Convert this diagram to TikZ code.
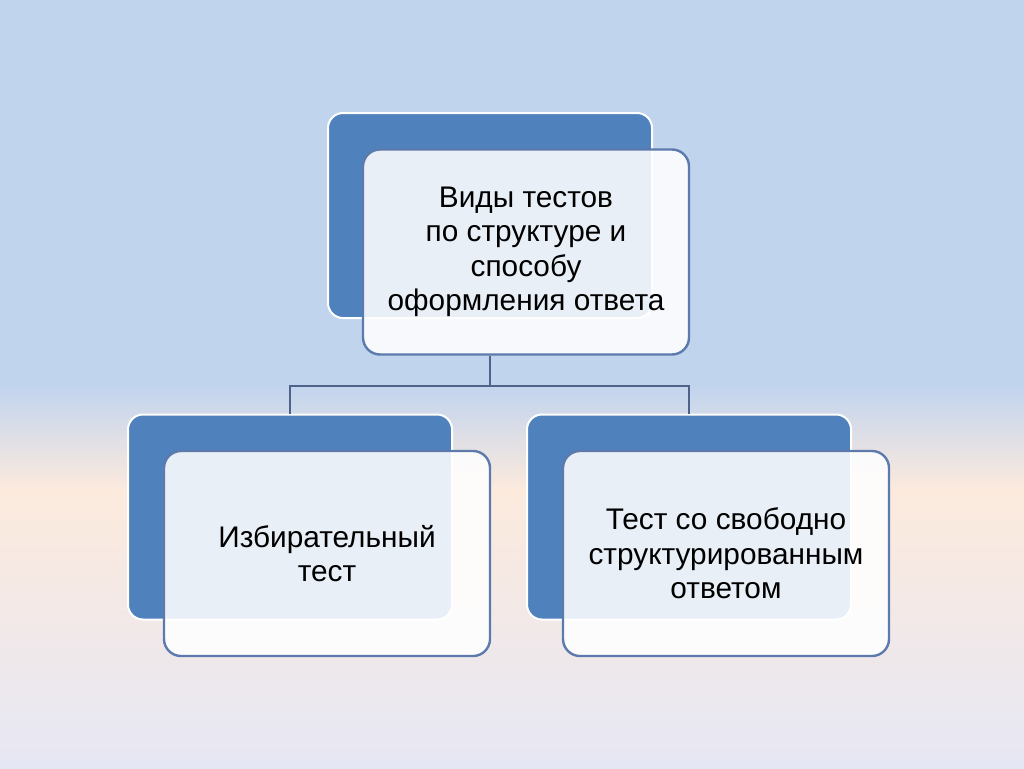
\documentclass[tikz,border=0pt]{standalone}
\usepackage{fontspec}
\setmainfont{Liberation Sans}
\usepackage{tikz}
\usetikzlibrary{positioning,calc}
\definecolor{bgblue}{RGB}{193,212,238}
\definecolor{bgpeach}{RGB}{252,234,221}
\definecolor{bglav}{RGB}{230,231,244}
\definecolor{boxclr}{RGB}{79,129,189}
\definecolor{rimclr}{RGB}{92,122,172}
\definecolor{linkclr}{RGB}{78,98,138}
\tikzset{
  backbox/.style={rectangle,rounded corners=15pt,draw=white,line width=2pt,
                  fill=boxclr,minimum width=324pt,minimum height=205pt,inner sep=0pt},
  frontbox/.style={rectangle,rounded corners=17pt,draw=rimclr,line width=2.4pt,
                   fill=white,fill opacity=0.88,text opacity=1,
                   minimum width=326pt,minimum height=205pt,inner sep=0pt,
                   align=center,font=\fontsize{29.8}{34.5}\selectfont},
  link/.style={draw=linkclr,line width=2pt},
}

\begin{document}
\begin{tikzpicture}[x=1pt, y=-1pt]
\fill[bgblue] (0,0) rectangle (1024,386);
\shade[top color=bgblue, bottom color=bgpeach] (0,385) rectangle (1024,490);
\shade[top color=bgpeach, bottom color=bglav] (0,489) rectangle (1024,768);
\useasboundingbox (0,0) rectangle (1024,768);

\node[backbox] (topback) at (490,215.5) {};
\node[frontbox] (topfront) at (526,252) {Виды тестов\\по структуре и\\способу\\оформления ответа};

\node[backbox] (leftback) at (290,517) {};
\node[frontbox] (leftfront) at (327,553.5) {Избирательный\\тест};

\node[backbox] (rightback) at (689,517) {};
\node[frontbox] (rightfront) at (726,553.5) {Тест со свободно\\структурированным\\ответом};

\draw[link] (topback.south |- topfront.south) -- ++(0,30) -| (leftback.north);
\draw[link] (topback.south |- topfront.south) -- ++(0,30) -| (rightback.north);
\end{tikzpicture}
\end{document}
